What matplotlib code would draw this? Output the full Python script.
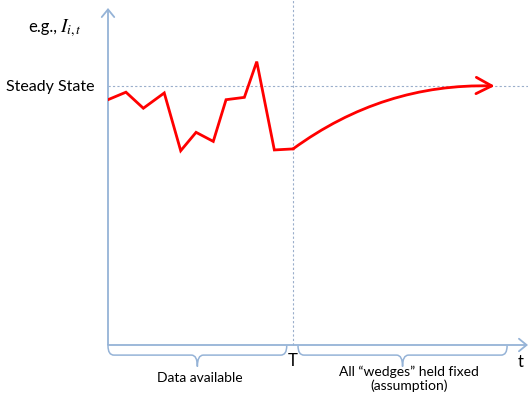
import matplotlib
matplotlib.use("Agg")
import matplotlib.pyplot as plt
from matplotlib.path import Path
from matplotlib.patches import PathPatch

plt.rcParams['font.family'] = ['Lato', 'DejaVu Sans']
plt.rcParams['mathtext.fontset'] = 'stix'

# observed periods (data available) and the value I_{i,t}, steady state = 100
periods = [0, 0.97, 1.91, 3.04, 3.93, 4.76, 5.69, 6.38, 7.37, 8.04, 8.99, 10.0]
values = [94.7, 97.6, 91.4, 97.3, 75.0, 82.1, 78.6, 94.7, 95.6, 109.4, 75.3, 75.7]
steady_state = 100
T = 10.0
t_converged = 20.9
t_max = 22.7
y_max = 130.1

axis_col = '#95b3d7'
grid_col = '#9aaecb'
red = '#ff0000'

fig = plt.figure(figsize=(5.28, 4.02), dpi=100)
ax = fig.add_axes([108 / 528, 56 / 402, 420 / 528, 337 / 402])
ax.set_xlim(0, t_max)
ax.set_ylim(0, y_max)
ax.axis('off')

# axes with open arrow heads
for end in [(t_max, 0), (0, y_max)]:
    ax.annotate('', xy=end, xytext=(0, 0),
                arrowprops=dict(arrowstyle='->,head_length=0.55,head_width=0.45',
                                color=axis_col, lw=1.3, mutation_scale=10,
                                shrinkA=0, shrinkB=0),
                annotation_clip=False)

# reference lines
ax.plot([0, t_max], [steady_state, steady_state], color=grid_col, lw=0.8,
        ls=(0, (2, 2)), clip_on=False)
ax.plot([T, T], [0, y_max + 3], color=grid_col, lw=0.8,
        ls=(0, (2, 2)), clip_on=False)

# observed path
ax.plot(periods, values, color=red, lw=2, solid_joinstyle='miter', zorder=5)

# convergence to steady state
ax.annotate('', xy=(t_converged, steady_state), xytext=(periods[-1], values[-1]),
            arrowprops=dict(arrowstyle='->,head_length=0.8,head_width=0.42',
                            connectionstyle='arc3,rad=-0.17',
                            color=red, lw=2, mutation_scale=14,
                            shrinkA=0, shrinkB=0),
            zorder=5)


def brace(x0, x1, ytop=-0.3, ymid=-3.9, ytip=-8.3, r=0.32):
    xm = (x0 + x1) / 2
    verts = [(x0, ytop), (x0, ymid), (x0 + r, ymid),
             (xm - r, ymid), (xm, ymid), (xm, ytip),
             (xm, ymid), (xm + r, ymid),
             (x1 - r, ymid), (x1, ymid), (x1, ytop)]
    codes = [Path.MOVETO, Path.CURVE3, Path.CURVE3,
             Path.LINETO, Path.CURVE3, Path.CURVE3,
             Path.CURVE3, Path.CURVE3,
             Path.LINETO, Path.CURVE3, Path.CURVE3]
    ax.add_patch(PathPatch(Path(verts, codes), fc='none', ec=axis_col,
                           lw=1.1, clip_on=False))


brace(0, 9.66)
brace(10.27, 21.57)

# labels
ax.text(4.97, -12.4, 'Data available', ha='center', va='center', fontsize=10)
ax.text(T, -5.9, 'T', ha='center', va='center', fontsize=12)
ax.text(22.3, -6.0, 't', ha='center', va='center', fontsize=12)
ax.text(16.27, -12.8, 'All \u201cwedges\u201d held fixed\n(assumption)',
        ha='center', va='center', fontsize=10, linespacing=1.15)
fig.text(95 / 528, 1 - 87 / 402, 'Steady State', ha='right', va='center', fontsize=11.5)
fig.text(28 / 528, 1 - 32 / 402, 'e.g.,', ha='left', va='baseline', fontsize=12)
fig.text(60 / 528, 1 - 32 / 402, '$I_{i,t}$', ha='left', va='baseline', fontsize=14)

fig.savefig('out.png', dpi=100)
